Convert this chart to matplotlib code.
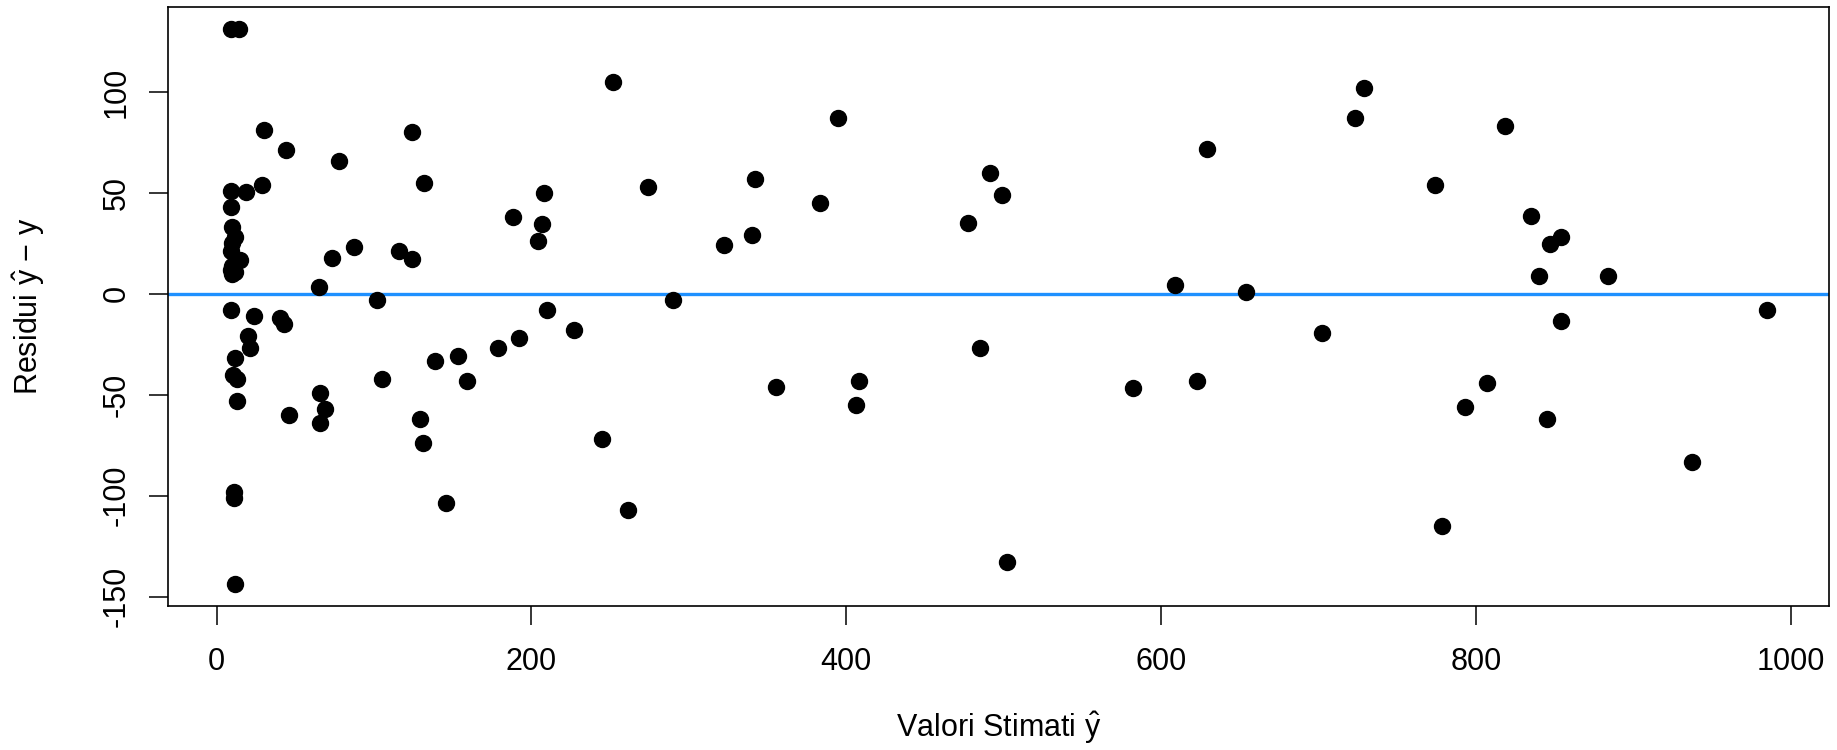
import matplotlib
matplotlib.use('Agg')
import matplotlib.pyplot as plt

# valori stimati (fitted) e residui
fitted = [9, 14, 30, 44, 78, 124, 132,
          9, 19, 29, 9,
          10, 12, 10, 9, 15, 10, 9, 12, 10,
          65, 73, 87, 116, 124, 102,
          9, 24, 40, 43, 20, 21, 12, 10.5, 13, 13,
          139, 105, 65.5, 69, 65.5, 46, 129, 131,
          11, 11, 12,
          252, 395, 208, 274, 342, 383, 188, 207, 204, 322, 340, 290, 210, 227,
          192, 179, 153.5, 159, 355, 408, 406, 245, 146, 261,
          729, 723, 629, 491, 499, 477, 609, 654, 485, 582, 623, 702, 502,
          818, 774, 835, 854, 847, 840, 884, 985, 854, 807, 793, 845, 937, 778]
residuals = [131, 131, 81, 71, 66, 80, 55,
             51, 50.5, 54, 43,
             33, 28, 25, 21, 16.5, 14, 12, 11, 10,
             3.5, 17.5, 23, 21, 17, -3,
             -8, -11, -12, -15, -21, -27, -32, -40, -42, -53,
             -33.5, -42, -49, -57, -64, -60, -62, -74,
             -98, -101, -144,
             105, 87, 50, 53, 57, 45, 38, 34.5, 26, 24, 29, -3, -8, -18,
             -22, -27, -31, -43, -46, -43, -55, -72, -103.5, -107,
             102, 87, 71.5, 60, 49, 35, 4.5, 1, -27, -46.5, -43, -19.5, -133,
             83, 54, 38.5, 28, 24.5, 9, 9, -8, -13.5, -44, -56, -62, -83.5, -115]

xticks = [0, 200, 400, 600, 800, 1000]
yticks = [-150, -100, -50, 0, 50, 100]

plt.rcParams['font.family'] = ['Liberation Sans', 'DejaVu Sans']
plt.rcParams['mathtext.fontset'] = 'custom'
plt.rcParams['mathtext.rm'] = 'Liberation Sans'
plt.rcParams['mathtext.it'] = 'Liberation Sans'
plt.rcParams['axes.unicode_minus'] = False

W, H = 1837, 750
fig = plt.figure(figsize=(W / 100, H / 100), dpi=100)
ax = fig.add_axes([168.4 / W, 1 - 606 / H, (1829 - 168.4) / W, (606 - 7) / H])

ax.axhline(0, color='#1E90FF', lw=2.4, zorder=1)
ax.plot(fitted, residuals, 'o', color='black', markersize=11.5, zorder=2)

ax.set_xlim(-30.6, 1024.1)
ax.set_ylim(-154.7, 142.1)
ax.set_xticks(xticks)
ax.set_yticks(yticks)
ax.set_xticklabels([str(v) for v in xticks])
ax.set_yticklabels([str(v) for v in yticks], rotation=90, va='center')
ax.tick_params(axis='both', direction='out', length=13.5, width=1.1,
               labelsize=22, color='black')
ax.tick_params(axis='x', pad=16)
ax.tick_params(axis='y', pad=13)
for s in ax.spines.values():
    s.set_linewidth(1.2)

fig.text((168.4 + 1829) / 2 / W, 1 - 728 / H, r'Valori Stimati $\hat{\mathrm{y}}$',
         ha='center', va='center', fontsize=22)
fig.text(29 / W, 1 - 306.5 / H, r'Residui $\hat{\mathrm{y}}$ $-$ y',
         ha='center', va='center', rotation=90, fontsize=22)

fig.savefig('out.png', dpi=100)
